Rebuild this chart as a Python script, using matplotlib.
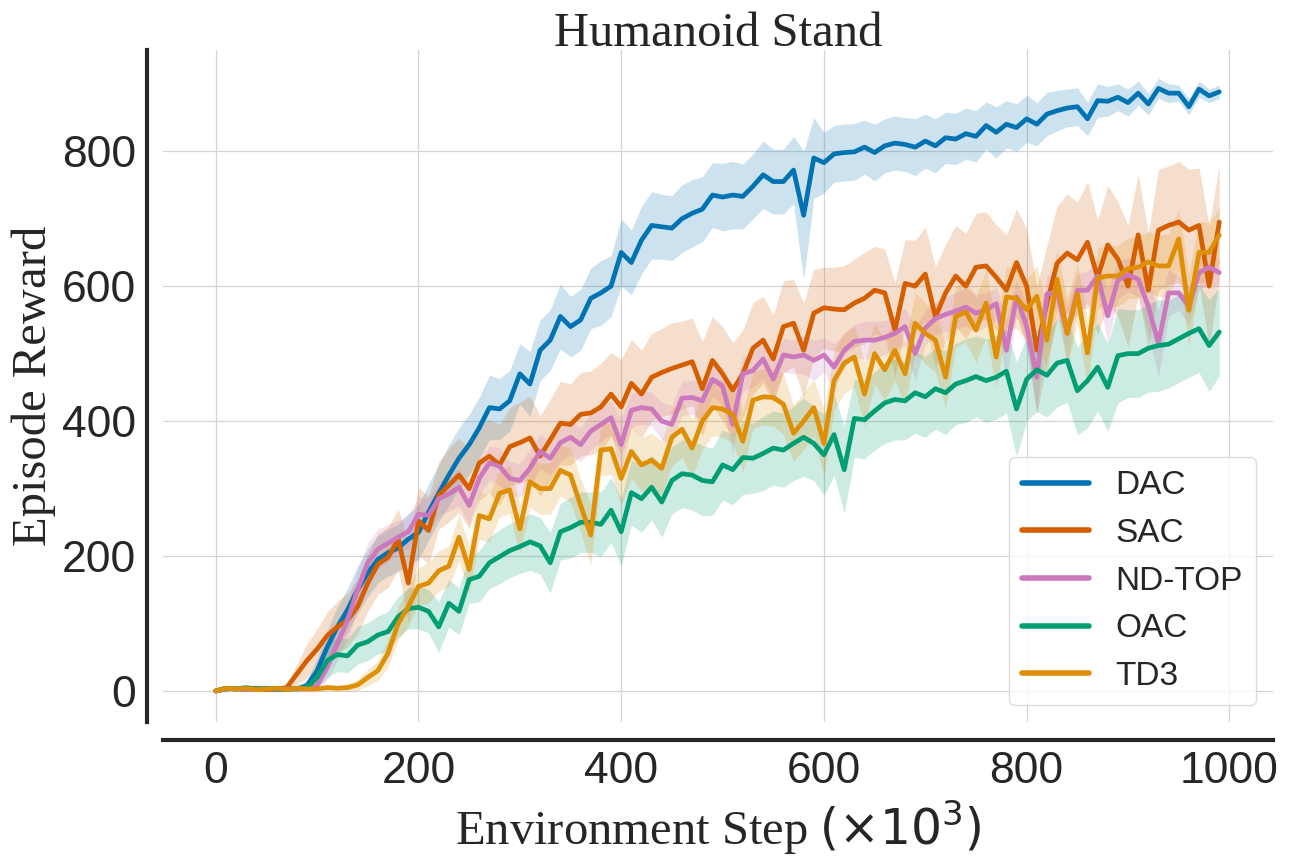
import numpy as np
import matplotlib
matplotlib.use("Agg")
import matplotlib.pyplot as plt
import seaborn as sns

# environment steps (x 10^3), one point every 10k steps
steps = np.arange(0, 1000, 10)

dac_mean = [0, 3, 4, 2, 4, 3, 2, 4, 3, 8,
            30, 65, 95, 120, 150, 175, 195, 205, 212, 225,
            235, 265, 293, 320, 345, 365, 390, 420, 418, 430,
            470, 455, 505, 520, 555, 540, 550, 582, 590, 600,
            650, 635, 668, 690, 688, 686, 700, 708, 714, 735,
            732, 735, 733, 748, 765, 755, 755, 772, 705, 790,
            783, 796, 798, 799, 806, 798, 808, 812, 810, 806,
            815, 808, 820, 818, 826, 822, 838, 828, 840, 835,
            848, 840, 855, 860, 864, 866, 848, 875, 874, 880,
            872, 886, 870, 893, 886, 886, 866, 892, 882, 888]
dac_std = [2, 3, 3, 2, 3, 3, 2, 3, 3,
           8, 18, 25, 30, 32, 35, 35, 35, 35, 35, 38,
           40, 42, 42, 45, 45, 45, 45, 48, 45, 45, 45, 48, 45, 45, 48, 45, 45, 45, 48, 45,
           50, 48, 50, 50, 48, 48, 50, 50, 48, 48, 50, 50, 48, 48, 50, 48, 48, 50, 95, 60,
           45, 42, 42, 42, 40, 42, 40, 40, 40, 42, 40, 40, 38, 38, 38, 38, 35, 38, 35, 35,
           35, 32, 32, 30, 28, 28, 25, 25, 22, 20, 20, 18, 16, 15, 14, 12, 12, 12, 10, 10]

sac_mean = [0, 4, 3, 3, 4, 2, 3, 5, 25, 45,
            62, 82, 95, 105, 125, 160, 188, 198, 225, 160,
            252, 238, 290, 305, 320, 300, 338, 348, 335, 362,
            368, 375, 348, 372, 397, 395, 410, 412, 421, 440,
            421, 456, 440, 465, 472, 478, 483, 488, 448, 490,
            470, 446, 470, 508, 520, 492, 540, 545, 505, 560,
            568, 566, 565, 575, 582, 594, 590, 535, 604, 600,
            618, 554, 590, 615, 600, 628, 630, 613, 594, 635,
            600, 505, 575, 634, 649, 639, 665, 613, 661, 640,
            600, 676, 594, 683, 690, 695, 683, 690, 600, 695]
sac_std = [2, 3, 3, 3, 3, 3, 3, 4,
           15, 25, 30, 35, 38, 40, 40, 42, 45, 45, 45, 60,
           50, 50, 50, 55, 55, 60, 55, 55, 60, 58, 60, 62, 60, 60, 62, 60, 62, 62, 65, 62,
           70, 65, 65, 65, 65, 68, 65, 65, 70, 65, 70, 70, 65, 68, 65, 65, 68, 65, 70, 65,
           60, 62, 65, 65, 68, 65, 65, 70, 65, 68, 70, 75, 72, 75, 78, 80, 80, 78, 82, 80,
           85, 95, 85, 85, 88, 85, 90, 85, 88, 85, 90, 90, 85, 90, 88, 90, 90, 85, 90, 85]

ndtop_mean = [0, 3, 4, 2, 3, 4, 2, 3, 3, 3,
              8, 35, 70, 105, 150, 190, 210, 219, 228, 236,
              262, 260, 285, 292, 302, 275, 315, 338, 333, 315,
              312, 330, 355, 345, 368, 376, 365, 385, 395, 405,
              365, 416, 420, 418, 400, 395, 434, 435, 430, 462,
              452, 395, 470, 475, 492, 462, 498, 495, 498, 490,
              498, 480, 505, 518, 520, 520, 524, 530, 540, 500,
              538, 552, 558, 563, 569, 560, 565, 574, 505, 584,
              540, 465, 588, 592, 530, 594, 594, 615, 556, 609,
              617, 610, 570, 515, 590, 590, 570, 620, 628, 620]
ndtop_std = [2, 3, 2, 3, 3, 2, 3, 3, 2, 3,
             8, 18, 25, 28, 30, 30, 30, 28, 25, 25,
             25, 25, 25, 25, 28, 28, 25, 25, 28, 25, 25, 28, 25, 25, 28, 25, 25, 28, 25, 25,
             40, 25, 25, 25, 28, 28, 25, 25, 28, 25, 28, 45, 25, 25, 28, 30, 25, 25, 28, 30,
             25, 35, 25, 25, 28, 28, 25, 25, 28, 40, 25, 25, 25, 28, 28, 28, 25, 25, 45, 25,
             35, 50, 28, 25, 40, 25, 28, 25, 40, 28, 25, 25, 40, 50, 35, 25, 28, 25, 25, 20]

oac_mean = [0, 4, 3, 5, 3, 4, 3, 2, 4, 5,
            20, 45, 54, 52, 68, 73, 83, 88, 110, 122,
            124, 118, 95, 130, 118, 165, 170, 190, 199, 208,
            214, 221, 215, 190, 236, 242, 250, 250, 247, 268,
            236, 294, 285, 302, 280, 312, 322, 320, 312, 310,
            335, 328, 346, 345, 352, 360, 357, 367, 376, 367,
            350, 380, 328, 404, 402, 415, 427, 432, 430, 442,
            436, 448, 442, 455, 460, 466, 460, 465, 474, 418,
            462, 476, 468, 486, 490, 445, 460, 480, 450, 497,
            500, 500, 508, 512, 514, 522, 530, 537, 512, 532]
oac_std = [2, 3, 3, 3, 2, 3, 3, 2, 3, 3,
           15, 25, 25, 25, 28, 28, 28, 30, 30, 30,
           32, 32, 38, 35, 35, 35, 38, 38, 40, 40, 40, 42, 42, 45, 42, 45, 45, 45, 48, 48,
           50, 48, 50, 48, 52, 50, 50, 52, 52, 50, 52, 52, 55, 52, 55, 55, 55, 55, 58, 55,
           60, 60, 65, 58, 58, 58, 60, 60, 58, 60, 60, 60, 62, 60, 62, 60, 62, 62, 62, 70,
           62, 62, 62, 65, 62, 65, 70, 65, 65, 70, 65, 65, 65, 68, 65, 65, 65, 65, 68, 65]

td3_mean = [0, 4, 3, 4, 2, 3, 4, 2, 4, 3,
            3, 5, 4, 5, 9, 20, 30, 56, 100, 125,
            155, 160, 178, 185, 228, 180, 260, 255, 293, 298,
            240, 310, 300, 300, 327, 320, 275, 231, 357, 359,
            315, 355, 335, 342, 330, 376, 388, 360, 400, 420,
            418, 410, 370, 431, 436, 435, 425, 382, 400, 420,
            367, 460, 486, 495, 440, 500, 476, 505, 470, 545,
            530, 520, 465, 555, 562, 535, 575, 495, 584, 582,
            565, 585, 520, 610, 530, 589, 501, 612, 615, 615,
            626, 628, 636, 630, 630, 670, 564, 650, 650, 676]
td3_std = [2, 3, 2, 3, 3, 2, 3, 3, 2, 3,
           3, 4, 4, 5, 8, 12, 15, 20, 25, 28,
           28, 30, 30, 30, 35, 35, 35, 35, 35, 35, 38, 38, 38, 38, 38, 40, 40, 45, 38, 38,
           40, 40, 40, 40, 40, 42, 42, 42, 42, 42, 42, 42, 45, 42, 42, 42, 45, 42, 42, 42,
           50, 45, 45, 45, 48, 45, 45, 45, 45, 45, 45, 48, 45, 45, 45, 48, 50, 45, 45, 45,
           45, 45, 50, 45, 50, 45, 50, 45, 45, 45, 45, 45, 45, 45, 48, 45, 55, 45, 45, 40]

names = ['DAC', 'SAC', 'ND-TOP', 'OAC', 'TD3']
means = [dac_mean, sac_mean, ndtop_mean, oac_mean, td3_mean]
stds = [dac_std, sac_std, ndtop_std, oac_std, td3_std]
colors = ['#0173b2', '#d55e00', '#cc78bc', '#029e73', '#de8f05']

sns.set_style('whitegrid')
plt.rcParams['font.family'] = ['Liberation Sans', 'DejaVu Sans']

fig = plt.figure(figsize=(12.96, 8.64), dpi=100)
ax = fig.add_axes([163 / 1296, 1 - 722 / 864, 1110 / 1296, 672 / 864])

for name, m, s, c in zip(names, means, stds, colors):
    m = np.array(m, dtype=float)
    s = np.array(s, dtype=float)
    ax.fill_between(steps, m - s, m + s, color=c, alpha=0.2, linewidth=0)
    ax.plot(steps, m, color=c, linewidth=3.4, label=name)

ax.set_xlim(-52, 1043)
ax.set_ylim(-46, 950)
ax.set_xticks([0, 200, 400, 600, 800, 1000])
ax.set_yticks([0, 200, 400, 600, 800])
ax.tick_params(axis='both', labelsize=32, colors='#262626', length=0, pad=8)
ax.grid(True, color='#d4d4d4', linewidth=0.9)

for side in ['top', 'right']:
    ax.spines[side].set_visible(False)
for side in ['left', 'bottom']:
    ax.spines[side].set_color('#262626')
    ax.spines[side].set_linewidth(3)
ax.spines['left'].set_position(('outward', 11.5))
ax.spines['bottom'].set_position(('outward', 13))

serif = ['Liberation Serif', 'DejaVu Serif']
ax.set_title('Humanoid Stand', fontsize=35, family=serif, color='#262626', pad=3)
ax.set_xlabel(r'Environment Step $(\times10^3)$', fontsize=35, family=serif, color='#262626')
ax.set_ylabel('Episode Reward', fontsize=35, family=serif, color='#262626')

leg = ax.legend(loc='lower right', fontsize=24, frameon=True, framealpha=0.8,
                edgecolor='#d4d4d4')
for line in leg.get_lines():
    line.set_linewidth(4)
    line.set_solid_capstyle('round')

fig.savefig('out.png', dpi=100)
